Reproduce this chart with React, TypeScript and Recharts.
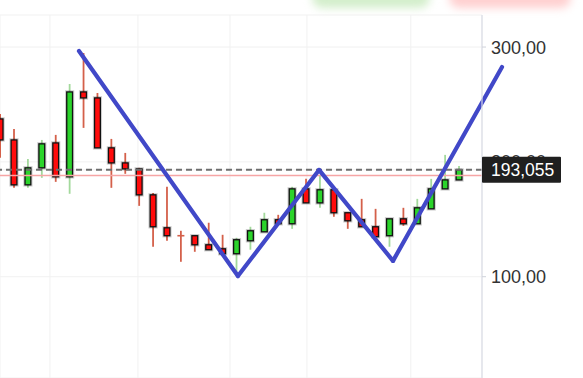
import React from 'react';
import { ComposedChart, Bar, XAxis, YAxis, CartesianGrid, ReferenceLine } from 'recharts';

// candle index (position on the time axis)
const candleIndex = [0, 1, 2, 3, 4, 5, 6, 7, 8, 9, 10, 11, 12, 13, 14, 15, 16, 17, 18, 19, 20, 21, 22, 23, 24, 25, 26, 27, 28, 29, 30, 31, 32, 33];
const opens = [237.4, 219.1, 180.0, 194.8, 216.5, 187.0, 260.9, 255.7, 212.2, 199.1, 193.9, 171.3, 142.6, 135.7, 135.7, 127.8, 124.3, 120.0, 131.3, 139.1, 149.6, 146.1, 176.5, 164.3, 175.7, 155.7, 149.6, 143.5, 135.7, 150.4, 146.1, 159.1, 176.5, 184.3];
const highs = [241.7, 228.7, 202.6, 219.1, 223.5, 267.8, 294.8, 260.0, 220.0, 207.8, 194.8, 173.0, 178.3, 140.0, 135.7, 147.0, 136.5, 133.9, 143.5, 155.7, 153.9, 178.3, 185.2, 187.8, 175.7, 155.7, 167.8, 159.1, 150.4, 160.0, 167.8, 185.2, 206.1, 196.5];
const lows = [203.5, 177.4, 177.4, 186.1, 182.6, 172.2, 229.6, 212.2, 177.4, 189.6, 161.7, 126.1, 131.3, 113.0, 121.7, 123.5, 120.0, 102.6, 123.5, 139.1, 146.1, 141.7, 164.3, 160.0, 152.2, 141.7, 143.5, 134.8, 126.1, 144.3, 146.1, 159.1, 176.5, 184.3];
const closes = [219.1, 180.0, 194.8, 215.7, 187.0, 260.9, 255.7, 212.2, 199.1, 193.9, 171.3, 143.5, 135.7, 135.4, 127.8, 123.5, 120.0, 132.2, 140.0, 149.6, 146.1, 176.5, 164.3, 175.7, 155.7, 148.7, 143.5, 134.8, 150.4, 146.1, 160.0, 176.5, 184.3, 193.055];

const yTicks = [100, 200, 300];
const gridTicks = [3.55, 9.88, 16.5, 22.03, 29.5];
const lastPrice = 193.055;
const redLevel = 188.1;

// hand-drawn "W" pattern vertices (x in candle index units, y in price)
const wX = [5.64, 17.07, 22.9, 28.22, 36.06];
const wY = [296.5, 100.6, 193.0, 113.8, 282.6];

const data = candleIndex.map((i, k) => ({
  i,
  o: opens[k],
  h: highs[k],
  l: lows[k],
  c: closes[k],
}));

const fmt2 = (v: number) => v.toFixed(2).replace('.', ',');
const fmt3 = (v: number) => v.toFixed(3).replace('.', ',');

const Candle = (props: any) => {
  const { x, y, width, height, payload } = props;
  if (!payload || x == null) return null;
  const { o, h, l, c } = payload;
  const cx = x + width / 2;
  const ratio = h - l > 0 ? height / (h - l) : 0;
  const top = y + (h - Math.max(o, c)) * ratio;
  const bot = y + (h - Math.min(o, c)) * ratio;
  const up = c >= o;
  const wick = up ? '#a3d99c' : '#d4604a';
  const body = up ? '#2bd42b' : '#ff0b0b';
  const doji = Math.abs(o - c) < 0.6;
  return (
    <g>
      <line x1={cx} x2={cx} y1={y} y2={y + height} stroke={wick} strokeWidth={1.8} />
      {doji ? (
        <line x1={x} x2={x + width} y1={top} y2={top} stroke={wick} strokeWidth={1.6} />
      ) : (
        <g>
          <rect x={x + 0.6} y={top} width={width - 1.2} height={Math.max(bot - top, 1)} fill="none" stroke="rgba(0,0,0,0.2)" strokeWidth={3.4} />
          <rect x={x + 0.6} y={top} width={width - 1.2} height={Math.max(bot - top, 1)} fill={body} stroke="#111" strokeWidth={1.3} />
        </g>
      )}
    </g>
  );
};

// y-axis tick: regular labels, plus the last-price box drawn last (on top)
const AxisTick = (props: any) => {
  const { x, y, payload } = props;
  const v = payload?.value;
  if (v === lastPrice) {
    return (
      <g>
        <rect x={x - 9} y={y - 13} width={79} height={26} rx={1} fill="#1f1f1f" />
        <text x={x} y={y} dy="0.36em" fill="#ffffff" fontSize={17.5} textAnchor="start">
          {fmt3(v)}
        </text>
      </g>
    );
  }
  return (
    <text x={x} y={y} dy="0.36em" fill="#333333" fontSize={18} textAnchor="start">
      {fmt2(v)}
    </text>
  );
};

export default function App() {
  return (
    <div
      style={{
        position: 'absolute',
        left: 0,
        top: 0,
        width: 583,
        height: 378,
        overflow: 'hidden',
        background: '#ffffff',
        fontFamily: '"Liberation Sans", Arial, sans-serif',
      }}
    >
      <div style={{ position: 'absolute', left: 312, top: -12, width: 118, height: 20, borderRadius: 10, background: '#d3eecb', filter: 'blur(4px)' }} />
      <div style={{ position: 'absolute', left: 449, top: -12, width: 122, height: 20, borderRadius: 10, background: '#ffd0d0', filter: 'blur(4px)' }} />
      <div style={{ position: 'absolute', left: 0, top: 0 }}>
        <ComposedChart width={583} height={378} data={data} margin={{ top: 15, right: 0, bottom: 0, left: 0 }}>
          <CartesianGrid stroke="#f1f1f1" strokeWidth={1} />
          <XAxis dataKey="i" type="number" domain={[-0.04, 34.62]} ticks={gridTicks} hide allowDataOverflow />
          <YAxis
            orientation="right"
            width={101}
            domain={[11.8, 327.9]}
            ticks={[...yTicks, lastPrice]}
            interval={0}
            allowDataOverflow
            tick={<AxisTick />}
            tickSize={4}
            tickMargin={5}
            tickLine={{ stroke: '#cfd2da' }}
            axisLine={{ stroke: '#dadde6', strokeWidth: 1.2 }}
          />
          <ReferenceLine y={redLevel} stroke="#f6a5a5" strokeWidth={1.6} ifOverflow="visible" />
          <ReferenceLine y={lastPrice} stroke="#6e6e6e" strokeWidth={2} strokeDasharray="6 4" ifOverflow="visible" />
          <Bar dataKey={(d: any) => [d.l, d.h]} barSize={7} shape={<Candle />} isAnimationActive={false} />
          {wX.slice(0, -1).map((_, k) => (
            <ReferenceLine
              key={k}
              segment={[
                { x: wX[k], y: wY[k] },
                { x: wX[k + 1], y: wY[k + 1] },
              ]}
              stroke="#4148c8"
              strokeWidth={4.2}
              strokeLinecap="round"
              ifOverflow="visible"
            />
          ))}
        </ComposedChart>
      </div>
    </div>
  );
}
